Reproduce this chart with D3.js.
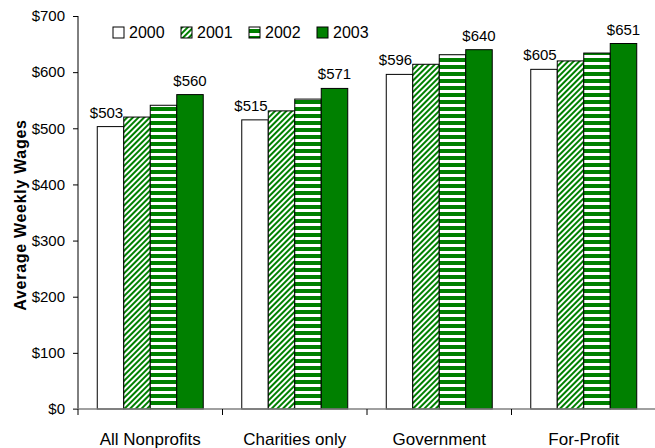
<!DOCTYPE html>
<html>
<head>
<meta charset="utf-8">
<script src="https://d3js.org/d3.v7.min.js"></script>
<style>
  body { margin: 0; background: #fff; }
  text { font-family: "Liberation Sans", Arial, sans-serif; fill: #000; }
</style>
</head>
<body>
<script>
// data
var categories = ["All Nonprofits", "Charities only", "Government", "For-Profit"];
var years = ["2000", "2001", "2002", "2003"];
var wages2000 = [503, 515, 596, 605];
var wages2001 = [520, 531, 614, 620];
var wages2002 = [541, 552, 631, 634];
var wages2003 = [560, 571, 640, 651];
var labelled = ["2000", "2003"];   // only these years carry value labels
var yTicks = [0, 100, 200, 300, 400, 500, 600, 700];

var series = [wages2000, wages2001, wages2002, wages2003];

var w = 655, h = 448;
var plotLeft = 78, plotRight = 656, plotTop = 16, plotBottom = 409;
var green = "#008000";

var svg = d3.select("body").append("svg")
  .attr("width", w).attr("height", h);

// patterns
var defs = svg.append("defs");
var diag = defs.append("pattern")
  .attr("id", "diag")
  .attr("patternUnits", "userSpaceOnUse")
  .attr("width", 4).attr("height", 4)
  .attr("patternTransform", "rotate(45)");
diag.append("rect").attr("width", 4).attr("height", 4).attr("fill", "#fff");
diag.append("rect").attr("width", 2).attr("height", 4).attr("fill", green);

var horiz = defs.append("pattern")
  .attr("id", "horiz")
  .attr("patternUnits", "userSpaceOnUse")
  .attr("width", 7).attr("height", 7)
  .attr("y", 2);
horiz.append("rect").attr("width", 7).attr("height", 7).attr("fill", "#fff");
horiz.append("rect").attr("width", 7).attr("height", 4).attr("fill", green);

var fills = {"2000": "#fff", "2001": "url(#diag)", "2002": "url(#horiz)", "2003": green};

// scales
var x0 = d3.scaleBand().domain(categories).range([plotLeft, plotRight]).padding(0);
var x1 = d3.scaleBand().domain(years).range([0, x0.bandwidth()])
  .paddingInner(0).paddingOuter(0.727);
var y = d3.scaleLinear().domain([0, 700]).range([plotBottom, plotTop]);

// bars
var rows = [];
categories.forEach(function (c, i) {
  years.forEach(function (yr, j) {
    rows.push({cat: c, year: yr, value: series[j][i]});
  });
});

svg.append("g").selectAll("rect")
  .data(rows)
  .enter().append("rect")
  .attr("x", d => x0(d.cat) + x1(d.year))
  .attr("y", d => y(d.value))
  .attr("width", x1.bandwidth())
  .attr("height", d => y(0) - y(d.value))
  .attr("fill", d => fills[d.year])
  .attr("stroke", "#000")
  .attr("stroke-width", 1);

// value labels
svg.append("g").selectAll("text")
  .data(rows.filter(d => labelled.indexOf(d.year) >= 0))
  .enter().append("text")
  .attr("x", d => x0(d.cat) + x1(d.year) + x1.bandwidth() / 2 + (d.year === "2000" ? -4 : 0))
  .attr("y", d => y(d.value) - 9)
  .attr("text-anchor", "middle")
  .style("font-size", "15px")
  .text(d => "$" + d.value);

// y axis
var yAxis = d3.axisLeft(y).tickValues(yTicks).tickSize(5).tickPadding(8)
  .tickFormat(d => "$" + d);
var gy = svg.append("g")
  .attr("transform", "translate(" + plotLeft + ",0)")
  .call(yAxis);
gy.select(".domain").attr("stroke", "#000").attr("d", "M0," + plotTop + "V" + plotBottom);
gy.selectAll(".tick line").attr("stroke", "#000");
gy.selectAll(".tick text").style("font-size", "15px").style("font-family", "Liberation Sans, Arial, sans-serif");

// x axis
var gx = svg.append("g").attr("transform", "translate(0," + plotBottom + ")");
gx.append("line")
  .attr("x1", plotLeft - 5).attr("x2", plotRight)
  .attr("stroke", "#808080").attr("stroke-width", 1.5);
gx.selectAll("line.tk")
  .data(categories)
  .enter().append("line")
  .attr("class", "tk")
  .attr("x1", d => x0(d)).attr("x2", d => x0(d))
  .attr("y1", 0).attr("y2", 6)
  .attr("stroke", "#000");
gx.selectAll("text")
  .data(categories)
  .enter().append("text")
  .attr("x", d => x0(d) + x0.bandwidth() / 2)
  .attr("y", 36)
  .attr("text-anchor", "middle")
  .style("font-size", "17px")
  .text(d => d);

// y title
svg.append("text")
  .attr("transform", "translate(26,215) rotate(-90)")
  .attr("text-anchor", "middle")
  .style("font-size", "16px")
  .style("font-weight", "bold")
  .style("letter-spacing", "0.7px")
  .text("Average Weekly Wages");

// legend
var leg = svg.append("g").selectAll("g")
  .data(years)
  .enter().append("g")
  .attr("transform", (d, i) => "translate(" + (113 + i * 68) + ",27)");
leg.append("rect")
  .attr("width", 11).attr("height", 11)
  .attr("fill", d => fills[d])
  .attr("stroke", "#000");
leg.append("text")
  .attr("x", 16).attr("y", 11)
  .style("font-size", "16px")
  .text(d => d);
</script>
</body>
</html>
